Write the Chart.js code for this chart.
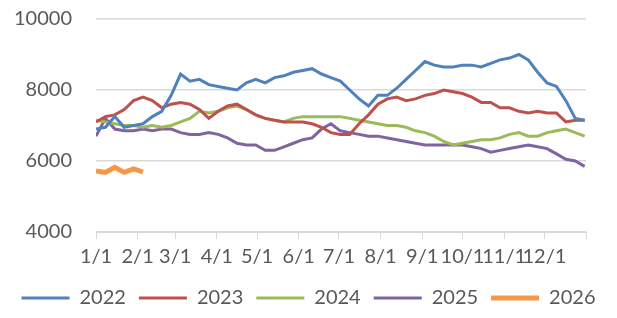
<!DOCTYPE html>
<html>
<head>
<meta charset="utf-8">
<script src="https://cdn.jsdelivr.net/npm/chart.js@4/dist/chart.umd.min.js"></script>
<style>
  html, body { margin: 0; padding: 0; background: #fff; }
  #wrap { width: 617px; height: 318px; }
</style>
</head>
<body>
<div id="wrap"><canvas id="seasonChart" width="617" height="318"></canvas></div>
<script>
// day of year for each sample (weekly)
const days = [0, 7, 14, 21, 28, 35, 42, 49, 56, 63, 70, 77, 84, 91, 98, 105, 112, 119, 126, 133,
    140, 147, 154, 161, 168, 175, 182, 189, 196, 203, 210, 217, 224, 231, 238, 245, 252, 259, 266,
    273, 280, 287, 294, 301, 308, 315, 322, 329, 336, 343, 350, 357, 364];

const years = ['2022', '2023', '2024', '2025', '2026'];

const values2022 = [6900, 6950, 7250, 6950, 7000, 7050, 7250, 7400, 7850, 8450, 8250, 8300, 8150, 8100,
    8050, 8000, 8200, 8300, 8200, 8350, 8400, 8500, 8550, 8600, 8450, 8350, 8250, 8000, 7750, 7550,
    7850, 7850, 8050, 8300, 8550, 8800, 8700, 8650, 8650, 8700, 8700, 8650, 8750, 8850, 8900, 9000,
    8850, 8500, 8200, 8100, 7700, 7200, 7150];
const values2023 = [7100, 7250, 7300, 7450, 7700, 7800, 7700, 7500, 7600, 7650, 7600, 7450, 7200, 7400,
    7550, 7600, 7450, 7300, 7200, 7150, 7100, 7100, 7100, 7050, 6950, 6800, 6750, 6750, 7050, 7300,
    7600, 7750, 7800, 7700, 7750, 7850, 7900, 8000, 7950, 7900, 7800, 7650, 7650, 7500, 7500, 7400,
    7350, 7400, 7350, 7350, 7100, 7150, 7150];
const values2024 = [7150, 7100, 7050, 7000, 7000, 6950, 7000, 6950, 7000, 7100, 7200, 7400, 7350, 7400,
    7500, 7550, 7450, 7300, 7200, 7150, 7100, 7200, 7250, 7250, 7250, 7250, 7250, 7200, 7150, 7100,
    7050, 7000, 7000, 6950, 6850, 6800, 6700, 6550, 6450, 6500, 6550, 6600, 6600, 6650, 6750, 6800,
    6700, 6700, 6800, 6850, 6900, 6800, 6700];
const values2025 = [6700, 7200, 6900, 6850, 6850, 6900, 6850, 6900, 6900, 6800, 6750, 6750, 6800, 6750,
    6650, 6500, 6450, 6450, 6300, 6300, 6400, 6500, 6600, 6650, 6900, 7050, 6850, 6800, 6750, 6700,
    6700, 6650, 6600, 6550, 6500, 6450, 6450, 6450, 6450, 6450, 6400, 6350, 6250, 6300, 6350, 6400,
    6450, 6400, 6350, 6200, 6050, 6000, 5850];
const values2026 = [5720, 5680, 5820, 5680, 5780, 5690];

const monthStarts = [0, 31, 59, 90, 120, 151, 181, 212, 243, 273, 304, 334, 365];
const monthLabels = ['1/1', '2/1', '3/1', '4/1', '5/1', '6/1', '7/1', '8/1', '9/1', '10/1', '11/1', '12/1', ''];

const yTicks = [4000, 6000, 8000, 10000];

const colors = ['#4f81bd', '#c0504d', '#9bbb59', '#8064a2', '#f79646'];
const widths = [3, 3, 3, 3, 5];
const allValues = [values2022, values2023, values2024, values2025, values2026];

const datasets = years.map((year, i) => ({
    label: year,
    data: allValues[i].map((v, j) => ({ x: days[j], y: v })),
    borderColor: colors[i],
    backgroundColor: colors[i],
    borderWidth: widths[i],
    pointRadius: 0,
    pointStyle: 'line',
    tension: 0,
    fill: false
}));

const textColor = '#595959';
const gridColor = '#d9d9d9';
const font = { family: 'Lato', size: 20 };

new Chart(document.getElementById('seasonChart').getContext('2d'), {
    type: 'line',
    data: { datasets: datasets },
    options: {
        responsive: false,
        animation: false,
        layout: { padding: { left: 0, right: 0, top: 19, bottom: 0 } },
        plugins: {
            tooltip: { enabled: false },
            legend: {
                position: 'bottom',
                labels: {
                    usePointStyle: true,
                    pointStyleWidth: 48,
                    color: textColor,
                    font: font,
                    padding: 13
                }
            }
        },
        scales: {
            x: {
                type: 'linear',
                min: 0,
                max: 365,
                afterBuildTicks: axis => {
                    axis.ticks = monthStarts.map(v => ({ value: v }));
                },
                ticks: {
                    autoSkip: false,
                    maxRotation: 0,
                    padding: 6,
                    color: textColor,
                    font: font,
                    callback: (value, index) => monthLabels[index]
                },
                grid: {
                    drawOnChartArea: false,
                    drawTicks: true,
                    tickLength: 7,
                    color: gridColor
                },
                border: { color: gridColor, width: 1 }
            },
            y: {
                min: 4000,
                max: 10000,
                afterBuildTicks: axis => {
                    axis.ticks = yTicks.map(v => ({ value: v }));
                },
                afterFit: scale => {
                    scale.width = 96;
                    scale.paddingTop = 0;
                    scale.paddingBottom = 0;
                },
                ticks: {
                    padding: 24,
                    color: textColor,
                    font: font,
                    callback: value => String(value)
                },
                grid: {
                    drawTicks: false,
                    color: gridColor,
                    lineWidth: 1.5
                },
                border: { display: false }
            },
            // empty right-hand axis: only keeps the plot clear of the right edge
            yRight: {
                position: 'right',
                min: 4000,
                max: 10000,
                afterFit: scale => { scale.width = 31; },
                ticks: { display: false },
                grid: { display: false },
                border: { display: false }
            }
        }
    }
});
</script>
</body>
</html>
